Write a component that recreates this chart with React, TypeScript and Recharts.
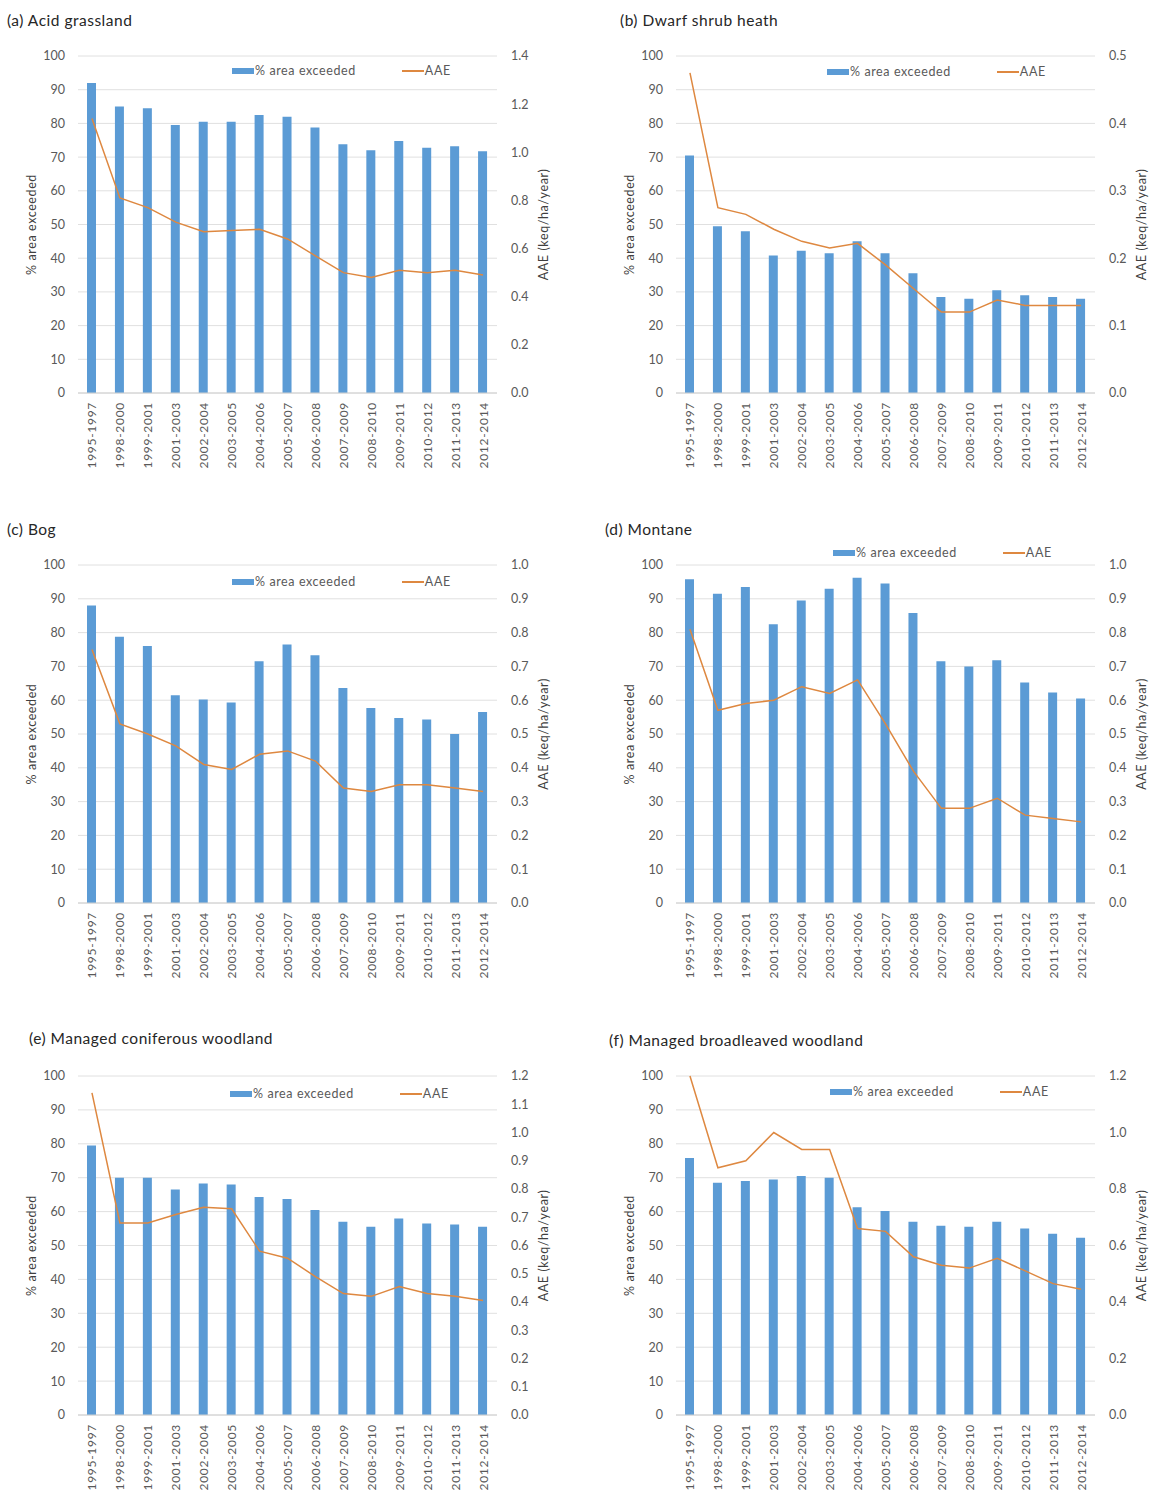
import React from 'react';
import { ComposedChart, Bar, Line, XAxis, YAxis, CartesianGrid, Legend } from 'recharts';

const periods = [
  '1995-1997', '1998-2000', '1999-2001', '2001-2003', '2002-2004',
  '2003-2005', '2004-2006', '2005-2007', '2006-2008', '2007-2009',
  '2008-2010', '2009-2011', '2010-2012', '2011-2013', '2012-2014',
];

// % area exceeded per habitat
const acidArea = [92, 85, 84.5, 79.5, 80.5, 80.5, 82.5, 82, 78.8, 73.8, 72, 74.8, 72.8, 73.2, 71.7];
const dwarfArea = [70.5, 49.5, 48, 40.8, 42.2, 41.5, 45, 41.5, 35.5, 28.5, 28, 30.5, 29, 28.5, 28];
const bogArea = [88, 78.8, 76, 61.5, 60.2, 59.3, 71.5, 76.5, 73.3, 63.6, 57.7, 54.7, 54.3, 50, 56.5];
const montaneArea = [95.8, 91.5, 93.5, 82.5, 89.5, 93, 96.2, 94.5, 85.8, 71.5, 70, 71.8, 65.2, 62.3, 60.5];
const coniferArea = [79.5, 70, 70, 66.5, 68.3, 68, 64.3, 63.7, 60.5, 57, 55.5, 58, 56.5, 56.2, 55.5];
const broadleafArea = [75.8, 68.5, 69, 69.5, 70.5, 70, 61.3, 60.2, 57, 55.8, 55.5, 57, 55, 53.5, 52.3];

// AAE (keq/ha/year) per habitat
const acidAAE = [1.14, 0.81, 0.77, 0.71, 0.67, 0.675, 0.68, 0.64, 0.57, 0.5, 0.48, 0.51, 0.5, 0.51, 0.49];
const dwarfAAE = [0.475, 0.275, 0.265, 0.243, 0.225, 0.215, 0.222, 0.19, 0.155, 0.12, 0.12, 0.138, 0.13, 0.13, 0.13];
const bogAAE = [0.75, 0.53, 0.5, 0.465, 0.41, 0.395, 0.44, 0.45, 0.42, 0.34, 0.33, 0.35, 0.35, 0.34, 0.33];
const montaneAAE = [0.81, 0.57, 0.59, 0.6, 0.64, 0.62, 0.66, 0.53, 0.39, 0.28, 0.28, 0.31, 0.26, 0.25, 0.24];
const coniferAAE = [1.14, 0.68, 0.68, 0.71, 0.735, 0.73, 0.58, 0.555, 0.49, 0.43, 0.42, 0.455, 0.43, 0.42, 0.405];
const broadleafAAE = [1.2, 0.875, 0.9, 1.0, 0.94, 0.94, 0.66, 0.65, 0.56, 0.53, 0.52, 0.555, 0.51, 0.465, 0.445];

const pctTicks = [0, 10, 20, 30, 40, 50, 60, 70, 80, 90, 100];
const aaeTicks14 = [0, 0.2, 0.4, 0.6, 0.8, 1.0, 1.2, 1.4];
const aaeTicks05 = [0, 0.1, 0.2, 0.3, 0.4, 0.5];
const aaeTicks10 = [0, 0.1, 0.2, 0.3, 0.4, 0.5, 0.6, 0.7, 0.8, 0.9, 1.0];
const aaeTicks12a = [0, 0.1, 0.2, 0.3, 0.4, 0.5, 0.6, 0.7, 0.8, 0.9, 1.0, 1.1, 1.2];
const aaeTicks12b = [0, 0.2, 0.4, 0.6, 0.8, 1.0, 1.2];

const FONT = 'Lato, "Open Sans", sans-serif';
const BLUE = '#5B9BD5';
const ORANGE = '#DE8840';
const GREY = '#595959';

const CatTick = (props: any) => {
  const { x, y, payload } = props;
  return (
    <text
      x={x}
      y={y}
      transform={`rotate(-90 ${x} ${y})`}
      textAnchor="end"
      dominantBaseline="central"
      fontSize={12}
      letterSpacing={0.7}
      fontFamily={FONT}
      fill={GREY}
    >
      {payload.value}
    </text>
  );
};

const AxisTitle = (props: any) => {
  const { viewBox, text, shift } = props;
  if (!viewBox) return null;
  const cx = viewBox.x + shift;
  const cy = viewBox.y + viewBox.height / 2;
  return (
    <text
      x={cx}
      y={cy}
      transform={`rotate(-90 ${cx} ${cy})`}
      textAnchor="middle"
      dominantBaseline="central"
      fontSize={12.5}
      letterSpacing={0.6}
      fontFamily={FONT}
      fill="#404040"
    >
      {text}
    </text>
  );
};

const LegendBox = () => (
  <div
    style={{
      display: 'flex',
      alignItems: 'center',
      fontSize: 12.5,
      letterSpacing: 0.6,
      lineHeight: '16px',
      color: GREY,
      fontFamily: FONT,
      whiteSpace: 'nowrap',
    }}
  >
    <span style={{ display: 'inline-block', width: 22, height: 6, background: BLUE }} />
    <span style={{ marginLeft: 1 }}>% area exceeded</span>
    <span style={{ display: 'inline-block', width: 22, height: 2, background: ORANGE, marginLeft: 46 }} />
    <span style={{ marginLeft: 1 }}>AAE</span>
  </div>
);

interface PanelProps {
  title: string;
  left: number;
  top: number;
  titleX: number;
  titleY: number;
  legendX: number;
  legendY: number;
  plotH: number;
  area: number[];
  aae: number[];
  aaeMax: number;
  aaeTicks: number[];
}

function Panel(p: PanelProps) {
  const data = periods.map((period, i) => ({ period, area: p.area[i], aae: p.aae[i] }));
  const h = 56 + p.plotH + 80;
  return (
    <div style={{ position: 'absolute', left: p.left, top: p.top, width: 576, height: h }}>
      <div
        style={{
          position: 'absolute',
          left: p.titleX,
          top: p.titleY - 10,
          fontFamily: FONT,
          fontSize: 15.5,
          letterSpacing: 0.5,
          lineHeight: '20px',
          color: '#262626',
          whiteSpace: 'nowrap',
        }}
      >
        {p.title}
      </div>
      <ComposedChart width={576} height={h} data={data} margin={{ top: 56, right: 19, bottom: 0, left: 0 }}>
        <CartesianGrid yAxisId="pct" vertical={false} stroke="#e0e0e0" />
        <XAxis
          dataKey="period"
          interval={0}
          height={80}
          tickLine={false}
          axisLine={{ stroke: '#d0d0d0' }}
          tickSize={0}
          tickMargin={9}
          tick={<CatTick />}
        />
        <YAxis
          yAxisId="pct"
          orientation="left"
          width={78}
          domain={[0, 100]}
          ticks={pctTicks}
          axisLine={false}
          tickLine={false}
          tickSize={0}
          tickMargin={13}
          tick={{ fill: GREY, fontSize: 12.5, fontFamily: FONT }}
          label={<AxisTitle text="% area exceeded" shift={31} />}
        />
        <YAxis
          yAxisId="aae"
          orientation="right"
          width={60}
          domain={[0, p.aaeMax]}
          ticks={p.aaeTicks}
          tickFormatter={(v: number) => v.toFixed(1)}
          axisLine={false}
          tickLine={false}
          tickSize={0}
          tickMargin={14}
          tick={{ fill: GREY, fontSize: 12.5, fontFamily: FONT }}
          label={<AxisTitle text="AAE (keq/ha/year)" shift={46} />}
        />
        <Legend
          layout="horizontal"
          verticalAlign="middle"
          align="center"
          wrapperStyle={{ top: p.legendY - 8, left: p.legendX, width: 'auto' }}
          content={<LegendBox />}
        />
        <Bar yAxisId="pct" dataKey="area" fill={BLUE} barSize={9} isAnimationActive={false} />
        <Line
          yAxisId="aae"
          dataKey="aae"
          type="linear"
          stroke={ORANGE}
          strokeWidth={1.5}
          dot={false}
          isAnimationActive={false}
        />
      </ComposedChart>
    </div>
  );
}

export default function App() {
  return (
    <div style={{ position: 'absolute', left: 0, top: 0, width: 1153, height: 1492, background: '#fff' }}>
      <Panel title="(a) Acid grassland" left={0} top={0} titleX={7} titleY={20} legendX={232} legendY={71}
        plotH={337} area={acidArea} aae={acidAAE} aaeMax={1.4} aaeTicks={aaeTicks14} />
      <Panel title="(b) Dwarf shrub heath" left={598} top={0} titleX={22} titleY={20} legendX={229} legendY={72}
        plotH={337} area={dwarfArea} aae={dwarfAAE} aaeMax={0.5} aaeTicks={aaeTicks05} />
      <Panel title="(c) Bog" left={0} top={509} titleX={7} titleY={20} legendX={232} legendY={73}
        plotH={338} area={bogArea} aae={bogAAE} aaeMax={1.0} aaeTicks={aaeTicks10} />
      <Panel title="(d) Montane" left={598} top={509} titleX={7} titleY={20} legendX={235} legendY={44}
        plotH={338} area={montaneArea} aae={montaneAAE} aaeMax={1.0} aaeTicks={aaeTicks10} />
      <Panel title="(e) Managed coniferous woodland" left={0} top={1020} titleX={29} titleY={18} legendX={230} legendY={74}
        plotH={339} area={coniferArea} aae={coniferAAE} aaeMax={1.2} aaeTicks={aaeTicks12a} />
      <Panel title="(f) Managed broadleaved woodland" left={598} top={1020} titleX={11} titleY={20} legendX={232} legendY={72}
        plotH={339} area={broadleafArea} aae={broadleafAAE} aaeMax={1.2} aaeTicks={aaeTicks12b} />
    </div>
  );
}
